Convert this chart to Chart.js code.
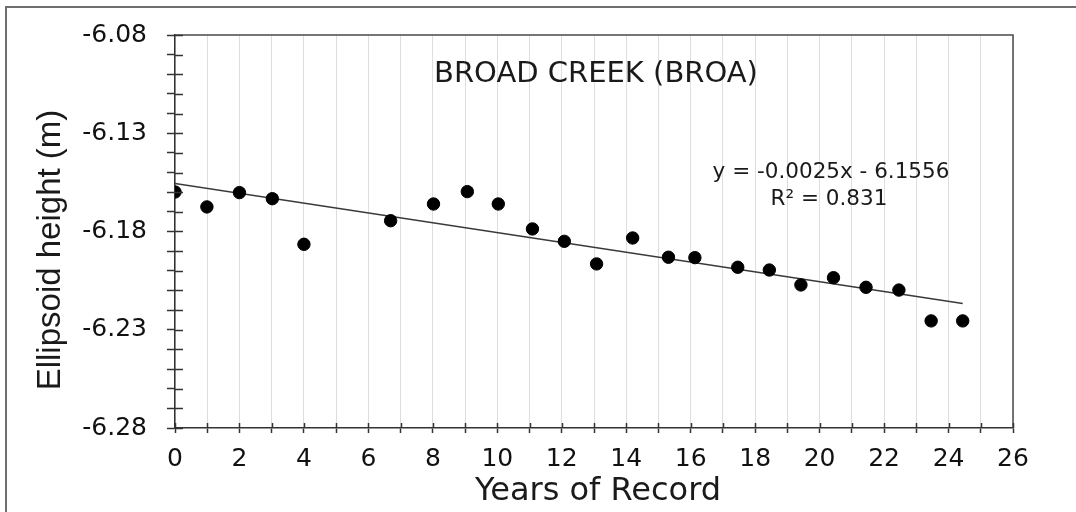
<!DOCTYPE html>
<html>
<head>
<meta charset="utf-8">
<script src="https://cdn.jsdelivr.net/npm/chart.js@4/dist/chart.umd.min.js"></script>
<style>
  html, body { margin: 0; padding: 0; background: #ffffff; }
  #c { display: block; }
</style>
</head>
<body>
<canvas id="c" width="1076" height="512"></canvas>
<script>
// ---- Data ----
const chartTitle = "BROAD CREEK (BROA)";
const xAxisTitle = "Years of Record";
const yAxisTitle = "Ellipsoid height (m)";
const trendEquation = "y = -0.0025x - 6.1556";
const trendR2 = "R² = 0.831";

const yearsOfRecord = [0, 0.99, 2.0, 3.02, 4.0, 6.69, 8.02, 9.07, 10.03, 11.09, 12.08, 13.08,
  14.2, 15.31, 16.13, 17.46, 18.44, 19.42, 20.43, 21.44, 22.46, 23.46, 24.44];
const ellipsoidHeight = [-6.1599, -6.1675, -6.1602, -6.1633, -6.1865, -6.1745, -6.1660, -6.1597,
  -6.1660, -6.1787, -6.1850, -6.1965, -6.1833, -6.1931, -6.1933, -6.1982, -6.1996, -6.2072,
  -6.2035, -6.2084, -6.2098, -6.2255, -6.2255];

// Linear trend line end points (from y = -0.0025x - 6.1556)
const trendX = [0, 24.44];
const trendY = [-6.1556, -6.2167];

const xTickLabels = [0, 2, 4, 6, 8, 10, 12, 14, 16, 18, 20, 22, 24, 26];
const yTickLabels = [-6.08, -6.13, -6.18, -6.23, -6.28];

// ---- Chart ----
const FONT = "'DejaVu Sans', sans-serif";

const decor = {
  id: 'decor',
  beforeDraw(chart) {
    const ctx = chart.ctx;
    ctx.save();
    ctx.fillStyle = '#ffffff';
    ctx.fillRect(0, 0, chart.width, chart.height);
    ctx.restore();
  },
  afterDraw(chart) {
    const { ctx, chartArea: a, scales: { x, y } } = chart;
    ctx.save();
    // top and right border of the plot
    ctx.strokeStyle = '#4a4a4a';
    ctx.lineWidth = 1.5;
    ctx.beginPath();
    ctx.moveTo(a.left, a.top);
    ctx.lineTo(a.right, a.top);
    ctx.lineTo(a.right, a.bottom);
    ctx.stroke();
    // inner halves of the crossing tick marks
    ctx.strokeStyle = '#333333';
    ctx.lineWidth = 1.5;
    ctx.beginPath();
    x.ticks.forEach(t => {
      const px = Math.round(x.getPixelForValue(t.value)) + 0.5;
      ctx.moveTo(px, a.bottom);
      ctx.lineTo(px, a.bottom - 5);
    });
    y.ticks.forEach(t => {
      const py = Math.round(y.getPixelForValue(t.value)) + 0.5;
      ctx.moveTo(a.left, py);
      ctx.lineTo(a.left + 8, py);
    });
    ctx.stroke();
    // outer frame (top and left only)
    ctx.strokeStyle = '#6e6e6e';
    ctx.lineWidth = 2;
    ctx.beginPath();
    ctx.moveTo(6, chart.height);
    ctx.lineTo(6, 7);
    ctx.lineTo(chart.width, 7);
    ctx.stroke();
    // texts
    ctx.fillStyle = '#1a1a1a';
    ctx.textBaseline = 'alphabetic';
    ctx.textAlign = 'center';
    ctx.font = '29px ' + FONT;
    ctx.fillText(chartTitle, 596, 82);
    ctx.font = '21.5px ' + FONT;
    ctx.fillText(trendEquation, 831, 178);
    ctx.fillText(trendR2, 829, 205);
    ctx.font = '32px ' + FONT;
    ctx.fillText(xAxisTitle, 598, 500);
    ctx.save();
    ctx.translate(60, 250);
    ctx.rotate(-Math.PI / 2);
    ctx.font = "33px 'Liberation Sans', Arial, sans-serif";
    ctx.fillText(yAxisTitle, 0, 0);
    ctx.restore();
    ctx.restore();
  }
};

new Chart(document.getElementById('c'), {
  type: 'scatter',
  data: {
    datasets: [
      {
        label: 'Ellipsoid height',
        data: yearsOfRecord.map((v, i) => ({ x: v, y: ellipsoidHeight[i] })),
        backgroundColor: '#000000',
        borderColor: '#000000',
        pointRadius: 6.2,
        pointHoverRadius: 6.2,
        order: 1
      },
      {
        type: 'line',
        label: 'Linear trend',
        data: trendX.map((v, i) => ({ x: v, y: trendY[i] })),
        borderColor: '#3a3a3a',
        borderWidth: 1.5,
        pointRadius: 0,
        fill: false,
        order: 2
      }
    ]
  },
  options: {
    responsive: false,
    animation: false,
    events: [],
    layout: { padding: { left: 0, top: 35, right: 63, bottom: 0 } },
    plugins: {
      legend: { display: false },
      tooltip: { enabled: false },
      title: { display: false }
    },
    scales: {
      x: {
        type: 'linear',
        min: 0,
        max: 26,
        afterBuildTicks(scale) {
          const t = [];
          for (let v = 0; v <= 26; v++) t.push({ value: v });
          scale.ticks = t;
        },
        afterFit(scale) { scale.height = 84; },
        ticks: {
          autoSkip: false,
          maxRotation: 0,
          padding: 11,
          color: '#111111',
          font: { family: FONT, size: 25 },
          callback: (v) => xTickLabels.includes(v) ? String(v) : ''
        },
        grid: {
          color: '#dedede',
          lineWidth: 1,
          drawTicks: true,
          tickLength: 5,
          tickColor: '#333333',
          tickWidth: 1.5
        },
        border: { display: true, color: '#333333', width: 1.5 }
      },
      y: {
        type: 'linear',
        min: -6.28,
        max: -6.08,
        afterBuildTicks(scale) {
          const t = [];
          for (let k = 0; k <= 20; k++) t.push({ value: Math.round((-6.28 + k * 0.01) * 100) / 100 });
          scale.ticks = t;
        },
        afterFit(scale) { scale.width = 175; },
        ticks: {
          autoSkip: false,
          padding: 20,
          color: '#111111',
          font: { family: FONT, size: 25 },
          callback: (v) => {
            const r = Math.round(v * 100) / 100;
            return yTickLabels.includes(r) ? r.toFixed(2) : '';
          }
        },
        grid: {
          color: 'rgba(0,0,0,0)',
          drawTicks: true,
          tickLength: 8,
          tickColor: '#333333',
          tickWidth: 1.5
        },
        border: { display: true, color: '#333333', width: 1.5 }
      }
    }
  },
  plugins: [decor]
});
</script>
</body>
</html>
